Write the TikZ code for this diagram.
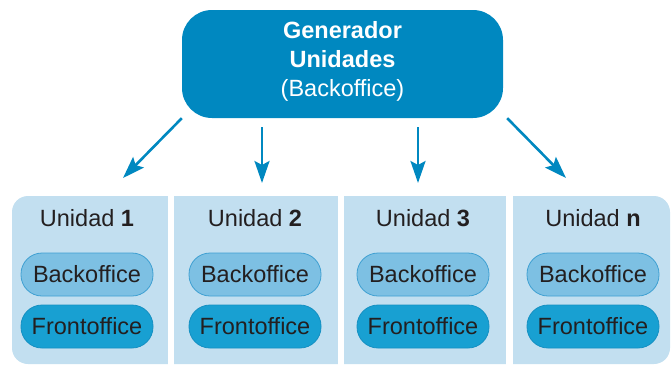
\documentclass[tikz,border=0pt]{standalone}
\usepackage{fontspec}
\setmainfont{Liberation Sans}
\usetikzlibrary{arrows.meta}

\definecolor{genblue}{HTML}{0088C0}
\definecolor{panelblue}{HTML}{C2DFF0}
\definecolor{backblue}{HTML}{7DC0E3}
\definecolor{backedge}{HTML}{3FA0D2}
\definecolor{frontblue}{HTML}{18A0D2}
\definecolor{frontedge}{HTML}{1590C2}
\definecolor{textgray}{HTML}{231F20}

\begin{document}
\begin{tikzpicture}[x=1pt, y=-1pt,
    genbox/.style={fill=genblue, rounded corners=30pt, minimum width=321pt, minimum height=108pt,
        text=white, align=center, inner sep=0pt, text depth=10.5pt, font=\fontsize{23.5}{29}\selectfont},
    unitlabel/.style={text=textgray, inner sep=0pt, font=\fontsize{23.5}{28}\selectfont},
    pill/.style={rounded corners=21pt, minimum width=132pt, minimum height=43pt, inner sep=0pt,
        line width=0.8pt, text=textgray, font=\fontsize{23.5}{28}\selectfont},
    backpill/.style={pill, fill=backblue, draw=backedge},
    frontpill/.style={pill, fill=frontblue, draw=frontedge},
    link/.style={genblue, line width=2.6pt, -{Stealth[length=22pt, width=15pt, inset=4pt]}}]
        \useasboundingbox (0,0) rectangle (671,365);

        % Generator box
        \node[genbox] (gen) at (342.5,64) {\textbf{Generador}\\\textbf{Unidades}\\(Backoffice)};

        % Unit panels (one light band, cut by white gaps)
        \fill[panelblue, rounded corners=16pt] (12,196) rectangle (670,364);
        \fill[white] (168,190) rectangle (174,366);
        \fill[white] (338,190) rectangle (344,366);
        \fill[white] (506,190) rectangle (513,366);

        % Unit 1
        \node[unitlabel] (unit1) at (87,218) {Unidad \textbf{1}};
        \node[backpill] (back1) at (87,274.5) {Backoffice};
        \node[frontpill] (front1) at (87,326.5) {Frontoffice};

        % Unit 2
        \node[unitlabel] (unit2) at (255,218) {Unidad \textbf{2}};
        \node[backpill] (back2) at (255,274.5) {Backoffice};
        \node[frontpill] (front2) at (255,326.5) {Frontoffice};

        % Unit 3
        \node[unitlabel] (unit3) at (423,218) {Unidad \textbf{3}};
        \node[backpill] (back3) at (423,274.5) {Backoffice};
        \node[frontpill] (front3) at (423,326.5) {Frontoffice};

        % Unit n
        \node[unitlabel] (unit4) at (593,218) {Unidad \textbf{n}};
        \node[backpill] (back4) at (593,274.5) {Backoffice};
        \node[frontpill] (front4) at (593,326.5) {Frontoffice};

        % Arrow tips above the panels
        \coordinate (tip1) at (123,178);
        \coordinate (tip2) at (262,183);
        \coordinate (tip3) at (418,183);
        \coordinate (tip4) at (566,178);

        % Arrows
        \draw[link] (gen.south west) -- (tip1);
        \draw[link] ([yshift=-9pt]gen.south -| tip2) -- (tip2);
        \draw[link] ([yshift=-9pt]gen.south -| tip3) -- (tip3);
        \draw[link] ([xshift=4pt]gen.south east) -- (tip4);
    \end{tikzpicture}
\end{document}
